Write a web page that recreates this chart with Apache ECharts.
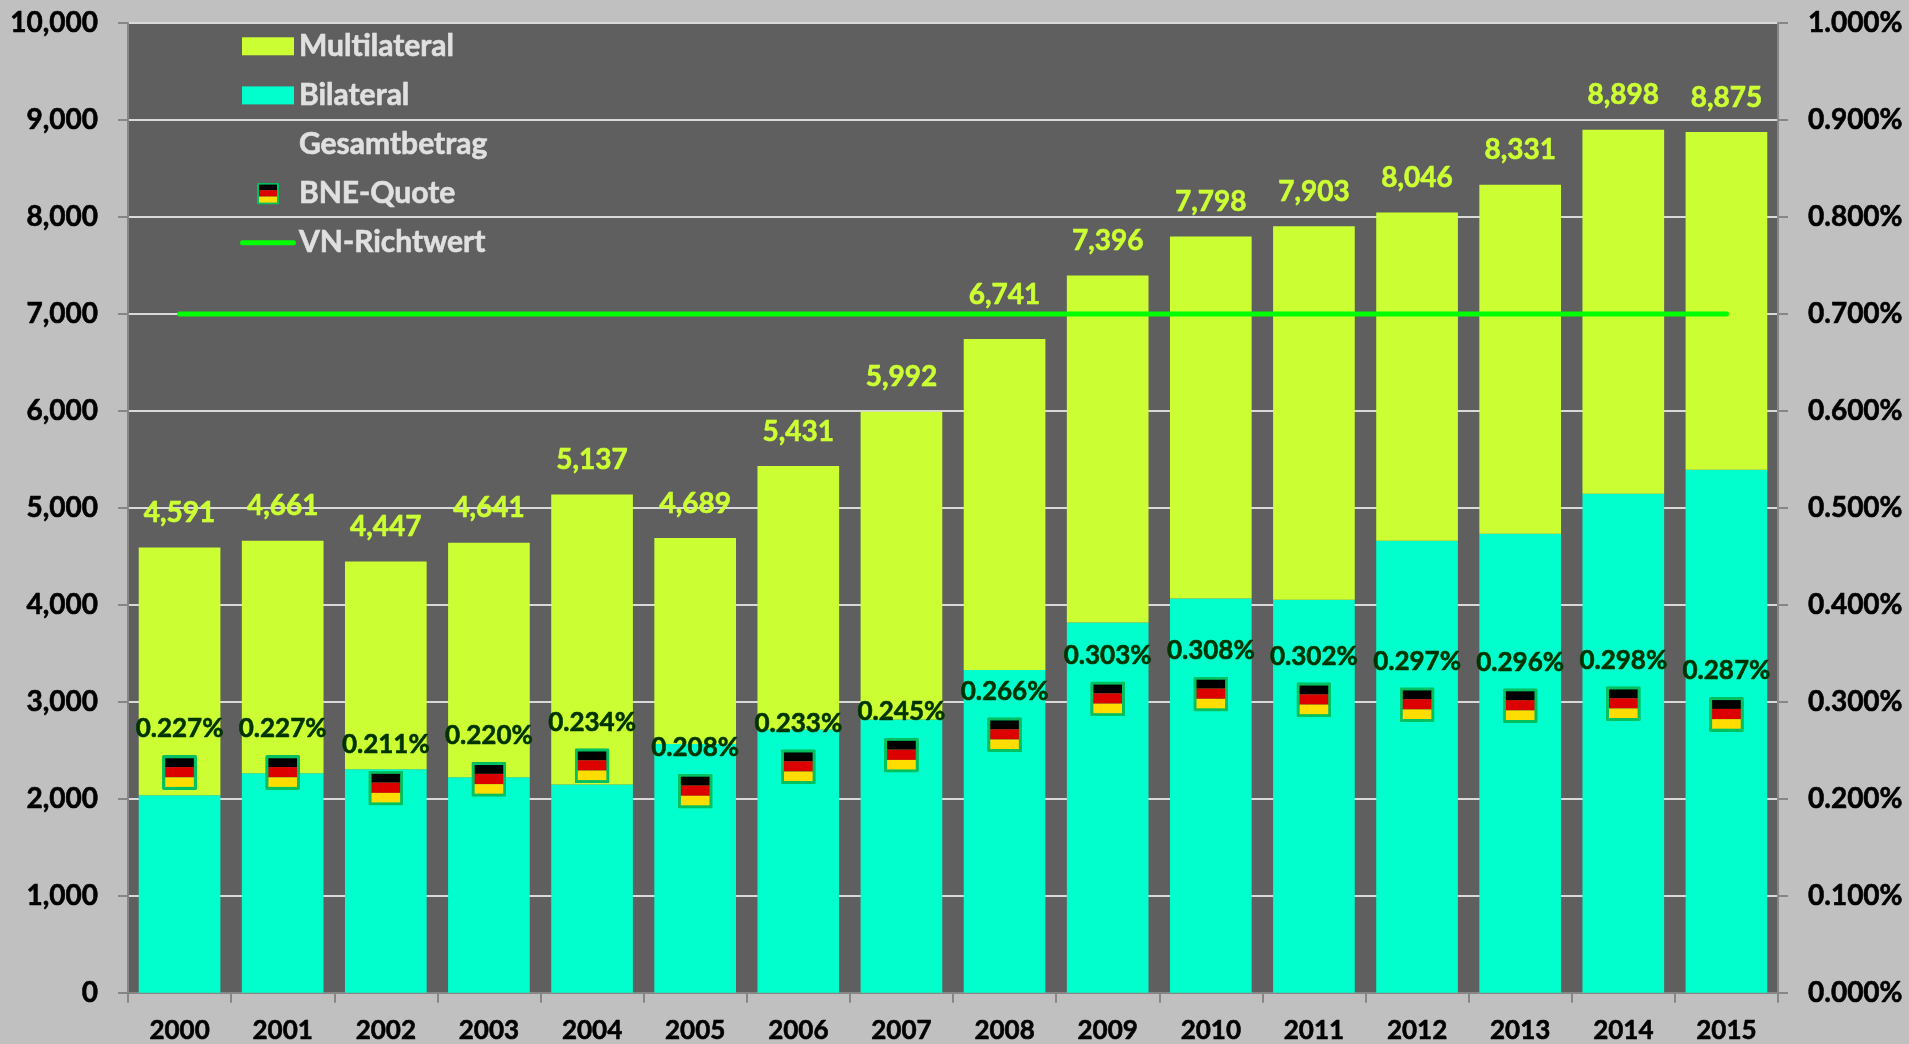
<!DOCTYPE html>
<html><head><meta charset="utf-8">
<style>html,body{margin:0;padding:0;background:#c0c0c0}#c{width:1909px;height:1044px}</style>
<script src="https://cdn.jsdelivr.net/npm/echarts@6/dist/echarts.min.js"></script></head>
<body><div id="c"></div>
<script>
const years=['2000','2001','2002','2003','2004','2005','2006','2007','2008','2009','2010','2011','2012','2013','2014','2015'];
const totals=[4591,4661,4447,4641,5137,4689,5431,5992,6741,7396,7798,7903,8046,8331,8898,8875];
const bilateral=[2037,2264,2305,2223,2147,2566,2714,2817,3329,3817,4064,4051,4661,4733,5146,5393];
const quota=[0.227,0.227,0.211,0.220,0.234,0.208,0.233,0.245,0.266,0.303,0.308,0.302,0.297,0.296,0.298,0.287];
const target=[0.7,0.7,0.7,0.7,0.7,0.7,0.7,0.7,0.7,0.7,0.7,0.7,0.7,0.7,0.7,0.7];
const multilateral=totals.map((t,i)=>t-bilateral[i]);
const F='Lato';
function svg(s){return 'image://data:image/svg+xml;charset=utf-8,'+encodeURIComponent(s);}
const flag=svg('<svg xmlns="http://www.w3.org/2000/svg" width="70" height="70" viewBox="0 0 35 35"><rect x="0" y="0" width="35" height="35" rx="2" fill="#00c060"/><rect x="3.2" y="3.2" width="28.6" height="8.8" fill="#000"/><rect x="3.2" y="12" width="28.6" height="10.3" fill="#dd0000"/><rect x="3.2" y="22.3" width="28.6" height="9.5" fill="#ffdd00"/></svg>');
const legendBox=c=>svg('<svg xmlns="http://www.w3.org/2000/svg" width="56" height="22" viewBox="0 0 56 22"><rect x="2" y="2" width="52" height="18" fill="'+c+'"/></svg>');
const legendLine=svg('<svg xmlns="http://www.w3.org/2000/svg" width="56" height="22" viewBox="0 0 56 22"><rect x="0" y="8.5" width="56" height="5" rx="2.5" fill="#00ff00"/></svg>');
const blank=svg('<svg xmlns="http://www.w3.org/2000/svg" width="56" height="22" viewBox="0 0 56 22"></svg>');
const thick=c=>({textBorderColor:c,textBorderWidth:0.6});
const chart=echarts.init(document.getElementById('c'));
chart.setOption({
 animation:false,backgroundColor:'#c0c0c0',
 textStyle:{fontFamily:F},
 grid:{left:128,right:131,top:23,height:970.5,show:true,backgroundColor:'#5f5f5f',borderWidth:0,containLabel:false},
 legend:{orient:'vertical',left:235,top:26,padding:5,itemWidth:56,itemHeight:22,itemGap:18.5,
  selectedMode:false,textStyle:{fontFamily:F,fontWeight:'bold',fontSize:30,color:'#e0e0e0',padding:[0,0,0,-2],...thick('#e0e0e0')},
  data:[{name:'Multilateral',icon:legendBox('#ccff33')},{name:'Bilateral',icon:legendBox('#00ffcc')},
   {name:'Gesamtbetrag',icon:blank},{name:'BNE-Quote',icon:flag},{name:'VN-Richtwert',icon:legendLine}]},
 xAxis:{type:'category',data:years,boundaryGap:true,
  axisLine:{show:true,lineStyle:{color:'#868686',width:2}},
  axisTick:{show:true,length:10,alignWithLabel:false,lineStyle:{color:'#868686',width:2}},
  axisLabel:{color:'#000',fontFamily:F,fontWeight:'bold',fontSize:26,margin:25,...thick('#000')}},
 yAxis:[
  {type:'value',min:0,max:10000,interval:1000,
   axisLine:{show:true,lineStyle:{color:'#868686',width:2}},
   axisTick:{show:true,length:10,lineStyle:{color:'#868686',width:2}},
   splitLine:{show:true,lineStyle:{color:'#d9d9d9',width:2}},
   axisLabel:{color:'#000',fontFamily:F,fontWeight:'bold',fontSize:28,margin:30,padding:[2,0,0,0],...thick('#000'),
    formatter:v=>v.toLocaleString('en-US')}},
  {type:'value',min:0,max:1,interval:0.1,position:'right',
   axisLine:{show:true,lineStyle:{color:'#868686',width:2}},
   axisTick:{show:true,length:10,lineStyle:{color:'#868686',width:2}},
   splitLine:{show:false},
   axisLabel:{color:'#000',fontFamily:F,fontWeight:'bold',fontSize:28,margin:30,padding:[2,0,0,0],...thick('#000'),
    formatter:v=>v.toFixed(3)+'%'}}
 ],
 series:[
  {name:'Bilateral',type:'bar',stack:'a',data:bilateral,barCategoryGap:'20.8%',itemStyle:{color:'#00ffcc'},z:2},
  {name:'Multilateral',type:'bar',stack:'a',data:multilateral,itemStyle:{color:'#ccff33'},z:2},
  {name:'Gesamtbetrag',type:'line',symbol:'circle',symbolSize:1,showSymbol:true,
   data:totals.map((v,i)=>i===8?{value:v,label:{distance:30}}:v),
   itemStyle:{color:'rgba(0,0,0,0)'},lineStyle:{width:0},z:5,
   label:{show:true,position:'top',distance:20,color:'#ccff33',fontFamily:F,fontWeight:'bold',fontSize:28,...thick('#ccff33'),
    formatter:p=>p.value.toLocaleString('en-US')}},
  {name:'VN-Richtwert',type:'line',yAxisIndex:1,data:target,symbol:'none',
   lineStyle:{color:'#00ff00',width:5,cap:'round'},z:4},
  {name:'BNE-Quote',type:'scatter',yAxisIndex:1,data:quota,symbol:flag,symbolSize:35,z:6,itemStyle:{opacity:1},
   label:{show:true,position:'top',distance:13,color:'#003300',fontFamily:F,fontWeight:'bold',fontSize:26,...thick('#003300'),
    formatter:p=>p.value.toFixed(3)+'%'}}
 ]
});
</script></body></html>
